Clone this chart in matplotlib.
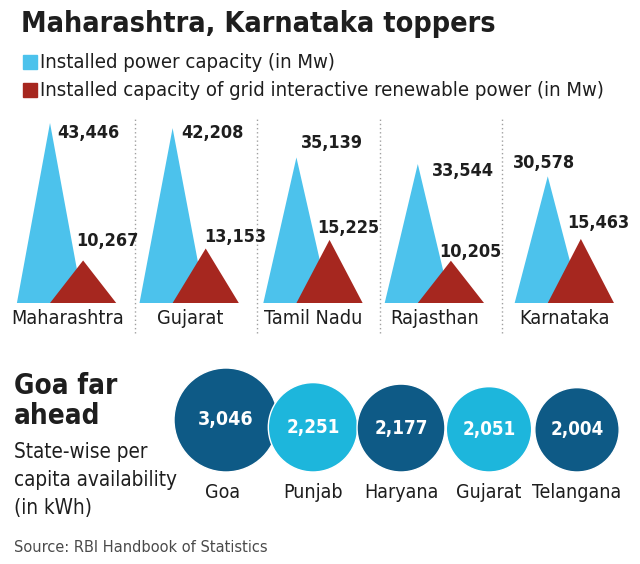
import matplotlib
matplotlib.use("Agg")
import matplotlib.pyplot as plt
from matplotlib import font_manager as fm
from matplotlib.patches import Polygon, Circle
import numpy as np

## data
states = ["Maharashtra", "Gujarat", "Tamil Nadu", "Rajasthan", "Karnataka"]
installed = [43446, 42208, 35139, 33544, 30578]
renewable = [10267, 13153, 15225, 10205, 15463]

pc_states = ["Goa", "Punjab", "Haryana", "Gujarat", "Telangana"]
per_capita = [3046, 2251, 2177, 2051, 2004]

title = "Maharashtra, Karnataka toppers"
legend_labels = ["Installed power capacity (in Mw)",
                 "Installed capacity of grid interactive renewable power (in Mw)"]
sub_title = ["Goa far", "ahead"]
sub_text = ["State-wise per", "capita availability", "(in kWh)"]
source = "Source: RBI Handbook of Statistics"

## colours
BLUE = "#4cc2ec"
RED = "#a6271f"
DARK = "#0e5a86"
LIGHT = "#1db6dc"
INK = "#1e1e1e"

## font: narrow if we have it
names = {f.name for f in fm.fontManager.ttflist}
if "Liberation Sans Narrow" in names:
    FONT = ["Liberation Sans Narrow", "DejaVu Sans"]
    STRETCH = "normal"
else:
    FONT = ["DejaVu Sans"]
    STRETCH = "condensed"
plt.rcParams["font.family"] = FONT
plt.rcParams["font.stretch"] = STRETCH

W, H = 640, 564
fig = plt.figure(figsize=(W / 100, H / 100), dpi=100)

def fx(x):
    return x / W
def fy(y):
    return 1 - y / H

## header
fig.text(fx(21), fy(24), title, fontsize=20.6, fontweight="bold", color=INK, va="center")
for k, (lab, col) in enumerate(zip(legend_labels, [BLUE, RED])):
    y = 62 + k * 28
    fig.patches.append(plt.Rectangle((fx(23), fy(y + 7)), 14 / W, 14 / H,
                                     transform=fig.transFigure, color=col))
    fig.text(fx(40), fy(y), lab, fontsize=14.6, color=INK, va="center")

## triangles
px_per_mw = 180 / 43446
ax = fig.add_axes([fx(12), fy(303), 613 / W, (303 - 110) / H])
ax.set_xlim(0, 5)
ax.set_ylim(0, 193 / px_per_mw)
ax.axis("off")

hw = 0.27
shift = [0, 0, 0.01, 0, 0.06]
# label offsets in px (dx, dy up), set by eye
blue_off = [(7, -10), (9, -5), (5, 14), (14, -7), (-4, 13)]
red_off = [(-7, 19), (-2, 12), (-12, 12), (-12, 9), (-14, 16)]
for i, (a, b) in enumerate(zip(installed, renewable)):
    bx = i + 0.31 + shift[i]
    rx = i + 0.58 + shift[i]
    ax.add_patch(Polygon([(bx - hw, 0), (bx, a), (bx + hw, 0)], closed=True,
                         facecolor=BLUE, edgecolor="none"))
    ax.add_patch(Polygon([(rx - hw, 0), (rx, b), (rx + hw, 0)], closed=True,
                         facecolor=RED, edgecolor="none"))
    dx, dy = blue_off[i]
    ax.annotate(f"{a:,}", (bx, a), xytext=(dx * 0.72, dy * 0.72), textcoords="offset points",
                ha="center" if i == 4 else "left", va="center", fontsize=13,
                fontweight="bold", color=INK, annotation_clip=False)
    dx, dy = red_off[i]
    ax.annotate(f"{b:,}", (rx, b), xytext=(dx * 0.72, dy * 0.72), textcoords="offset points",
                ha="left", va="center", fontsize=13, fontweight="bold", color=INK,
                annotation_clip=False)
    ax.annotate(states[i], (i + 0.45 + shift[i], 0), xytext=(0, -16 * 0.72),
                textcoords="offset points", ha="center", va="center", fontsize=14.2,
                color=INK, annotation_clip=False)
    if i > 0:
        ax.plot([i, i], [-30 / px_per_mw, 185 / px_per_mw], ls=(0, (1, 2)), lw=1.0,
                color="#a0a0a0", clip_on=False)

## circles, area ~ value
axc = fig.add_axes([0, 0, 1, 1], zorder=-1)
axc.set_xlim(0, W)
axc.set_ylim(H, 0)
axc.axis("off")
r_max = 52
cx = [226, 313, 401, 489, 577]
for i, v in enumerate(per_capita):
    r = r_max * np.sqrt(v / per_capita[0])
    cy = 472 - r
    col = DARK if i % 2 == 0 else LIGHT
    axc.add_patch(Circle((cx[i], cy), r, facecolor=col, edgecolor="white", lw=1))
    axc.text(cx[i], cy, f"{v:,}", ha="center", va="center", fontsize=14 if i == 0 else 13.5,
             fontweight="bold", color="white")
    axc.text(cx[i] - 3 if i == 0 else cx[i], 492, pc_states[i], ha="center", va="center",
             fontsize=14, color=INK)

for k, s in enumerate(sub_title):
    fig.text(fx(14), fy(386 + k * 30), s, fontsize=20, fontweight="bold", color=INK, va="center")
for k, s in enumerate(sub_text):
    fig.text(fx(14), fy(452 + k * 28), s, fontsize=14.9, color=INK, va="center")
fig.text(fx(14), fy(547), source, fontsize=11.7, color="#4a4a4a", va="center")

fig.savefig("out.png", dpi=100, facecolor="white")
